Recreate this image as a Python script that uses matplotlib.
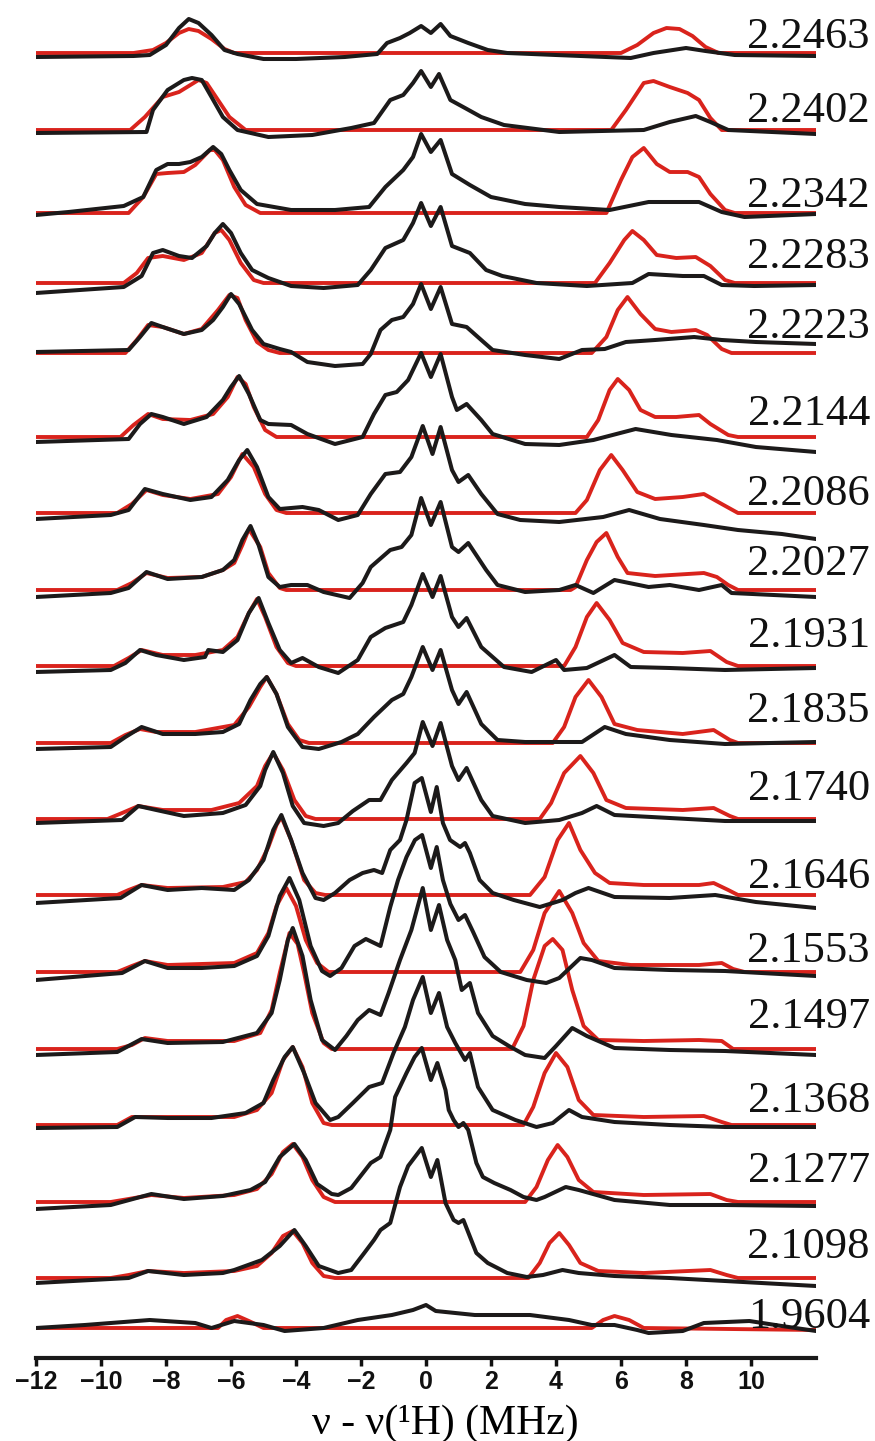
import matplotlib.pyplot as plt

# field labels, top to bottom
labels = ['2.2463', '2.2402', '2.2342', '2.2283', '2.2223', '2.2144', '2.2086',
          '2.2027', '2.1931', '2.1835', '2.1740', '2.1646', '2.1553', '2.1497',
          '2.1368', '2.1277', '2.1098', '1.9604']

# (frequency MHz, intensity) points
exp_22463 = [(-12, -4), (-9, -3), (-8.5, -2), (-8.0, 8), (-7.6, 25), (-7.3, 34), (-7.0, 30), (-6.6, 18), (-6.2, 3), (-5.8, -1), (-5.0, -6), (-4.0, -6), (-2.5, -4), (-1.5, -1), (-1.2, 10), (-0.8, 15), (-0.5, 20), (-0.15, 27), (0.15, 20), (0.45, 29), (0.75, 17), (1.3, 10), (1.9, 3), (2.5, 0), (4.0, -2), (6.3, -5), (7.0, 0), (8.0, 5), (8.6, 2), (9.5, -2), (12, -3)]
sim_22463 = [(-12, 0), (-9, 0), (-8.4, 3), (-8.0, 10), (-7.6, 20), (-7.3, 24), (-7.0, 22), (-6.6, 14), (-6.2, 4), (-5.9, 0), (6.0, 0), (6.5, 8), (7.0, 20), (7.4, 25), (7.8, 24), (8.2, 17), (8.6, 6), (9.0, 0), (12, 0)]

exp_22402 = [(-12, -3), (-8.6, -2), (-8.4, 20), (-7.95, 40), (-7.45, 50), (-7.2, 52), (-6.9, 50), (-6.6, 33), (-6.25, 13), (-5.8, 0), (-4.85, -7), (-3.5, -5), (-2.3, 2), (-1.6, 7), (-1.1, 30), (-0.7, 35), (-0.4, 47), (-0.15, 59), (0.15, 43), (0.4, 56), (0.75, 30), (1.2, 22), (1.7, 13), (2.4, 5), (4.1, -2), (6.7, 0), (7.5, 8), (8.3, 14), (8.75, 8), (9.3, 0), (12, -4)]
sim_22402 = [(-12, 0), (-9.1, 0), (-8.65, 13), (-8.1, 33), (-7.6, 38), (-7.0, 50), (-6.75, 47), (-6.4, 30), (-6.05, 13), (-5.55, 0), (5.7, 0), (6.15, 20), (6.7, 47), (7.0, 49), (7.5, 43), (8.05, 37), (8.4, 30), (8.75, 12), (9.1, 0), (12, 0)]

exp_22342 = [(-12, -2), (-11, 1), (-9.3, 7), (-8.7, 16), (-8.3, 43), (-7.95, 49), (-7.6, 49), (-7.25, 51), (-6.9, 56), (-6.55, 66), (-6.3, 59), (-6.05, 43), (-5.7, 23), (-5.2, 9), (-4.15, 3), (-2.8, 3), (-1.75, 6), (-1.25, 26), (-0.7, 43), (-0.4, 56), (-0.15, 79), (0.15, 61), (0.45, 73), (0.8, 39), (1.35, 28), (2.0, 16), (3.05, 9), (4.1, 6), (5.65, 3), (6.85, 11), (7.5, 11), (8.4, 11), (9.1, 1), (9.8, -4), (12, -1)]
sim_22342 = [(-12, 0), (-9.15, 0), (-8.7, 16), (-8.3, 39), (-7.95, 40), (-7.45, 41), (-7.1, 48), (-6.65, 63), (-6.5, 63), (-6.25, 53), (-5.9, 26), (-5.55, 8), (-5.1, 0), (5.55, 0), (6.0, 33), (6.35, 56), (6.7, 65), (7.1, 49), (7.5, 41), (8.05, 41), (8.4, 36), (8.75, 19), (9.2, 3), (9.5, 0), (12, 0)]

exp_22283 = [(-12, -10), (-9.3, -4), (-8.75, 7), (-8.4, 30), (-8.1, 33), (-7.6, 27), (-7.2, 25), (-6.75, 37), (-6.5, 50), (-6.25, 59), (-6.0, 50), (-5.7, 30), (-5.35, 13), (-4.85, 5), (-4.15, -3), (-3.15, -5), (-2.1, -2), (-1.7, 13), (-1.25, 35), (-0.7, 43), (-0.4, 60), (-0.15, 80), (0.15, 57), (0.45, 76), (0.8, 37), (1.35, 30), (1.85, 13), (2.35, 7), (3.4, 0), (4.95, -3), (6.35, 0), (6.85, 9), (7.9, 7), (8.55, 7), (9.1, -2), (10.1, -3), (12, -2)]
sim_22283 = [(-12, 0), (-9.3, 0), (-8.9, 10), (-8.55, 25), (-8.1, 27), (-7.45, 23), (-6.9, 30), (-6.5, 50), (-6.3, 53), (-6.05, 43), (-5.7, 20), (-5.3, 3), (-5.0, 0), (5.2, 0), (5.65, 20), (6.1, 43), (6.35, 52), (6.7, 43), (7.1, 28), (7.7, 25), (8.3, 26), (8.75, 17), (9.2, 3), (9.5, 0), (12, 0)]

exp_22223 = [(-12, 1), (-9.15, 3), (-8.8, 16), (-8.45, 30), (-8.1, 26), (-7.45, 19), (-6.9, 23), (-6.55, 33), (-6.25, 46), (-6.0, 59), (-5.75, 49), (-5.35, 23), (-5.0, 9), (-4.5, 4), (-4.15, 1), (-3.65, -9), (-2.8, -13), (-1.95, -11), (-1.7, -1), (-1.4, 23), (-1.05, 33), (-0.7, 36), (-0.4, 49), (-0.15, 69), (0.15, 44), (0.45, 66), (0.8, 29), (1.25, 26), (1.7, 13), (2.05, 3), (3.05, -2), (4.1, -6), (4.8, 3), (5.5, 4), (6.15, 11), (7.05, 13), (8.25, 16), (9.1, 13), (10.15, 11), (12, 9)]
sim_22223 = [(-12, 0), (-9.25, 0), (-8.9, 13), (-8.55, 28), (-8.1, 26), (-7.45, 19), (-6.9, 24), (-6.4, 43), (-6.05, 58), (-5.8, 55), (-5.55, 33), (-5.2, 11), (-4.85, 3), (-4.5, 0), (5.1, 0), (5.55, 16), (5.9, 43), (6.2, 56), (6.6, 39), (7.05, 24), (7.55, 21), (8.3, 23), (8.65, 18), (9.1, 4), (9.4, 0), (12, 0)]

exp_22144 = [(-12, -5), (-9.15, -2), (-8.8, 13), (-8.45, 23), (-8.1, 20), (-7.45, 13), (-6.75, 20), (-6.25, 37), (-6.0, 50), (-5.75, 61), (-5.45, 43), (-5.1, 17), (-4.85, 13), (-4.15, 12), (-3.65, 3), (-2.8, -7), (-1.95, 0), (-1.6, 23), (-1.25, 42), (-0.9, 45), (-0.55, 57), (-0.15, 84), (0.15, 60), (0.45, 83), (0.8, 40), (0.95, 27), (1.25, 33), (1.7, 17), (2.05, 3), (3.05, -7), (4.1, -8), (5.15, -3), (6.45, 8), (7.55, 2), (8.95, -3), (10.15, -10), (12, -15)]
sim_22144 = [(-12, 0), (-9.4, 0), (-9.0, 12), (-8.55, 23), (-8.1, 18), (-7.25, 17), (-6.55, 23), (-6.1, 40), (-5.8, 60), (-5.55, 53), (-5.3, 30), (-4.95, 7), (-4.6, 0), (4.95, 0), (5.3, 17), (5.65, 47), (5.9, 58), (6.25, 47), (6.6, 27), (7.05, 20), (7.7, 20), (8.4, 22), (8.75, 13), (9.3, 2), (9.6, 0), (12, 0)]

exp_22086 = [(-12, -6), (-9.7, -2), (-9.15, 3), (-8.65, 24), (-8.1, 19), (-7.25, 13), (-6.6, 16), (-6.1, 33), (-5.75, 53), (-5.5, 63), (-5.2, 46), (-4.85, 16), (-4.5, 4), (-3.8, 6), (-3.3, 3), (-2.7, -7), (-2.1, -2), (-1.7, 19), (-1.25, 39), (-0.8, 41), (-0.45, 56), (-0.1, 87), (0.2, 59), (0.45, 86), (0.8, 43), (1.0, 31), (1.3, 38), (1.7, 19), (2.2, -1), (2.9, -7), (4.1, -9), (5.45, -4), (6.25, 3), (7.2, -6), (8.55, -12), (9.6, -17), (10.95, -21), (12, -26)]
sim_22086 = [(-12, 0), (-9.5, 0), (-9.05, 9), (-8.6, 23), (-8.1, 18), (-7.25, 14), (-6.4, 19), (-6.0, 36), (-5.65, 59), (-5.3, 46), (-4.95, 19), (-4.6, 3), (-4.3, 0), (4.6, 0), (4.95, 13), (5.35, 43), (5.7, 58), (6.05, 43), (6.5, 21), (7.05, 14), (7.9, 16), (8.55, 19), (9.1, 9), (9.6, 0), (12, 0)]

exp_22027 = [(-12, -7), (-9.7, -3), (-9.15, 2), (-8.6, 18), (-7.95, 11), (-6.9, 13), (-6.25, 20), (-5.9, 30), (-5.65, 50), (-5.4, 64), (-5.15, 45), (-4.85, 13), (-4.5, 3), (-4.15, 5), (-3.65, 5), (-3.15, -2), (-2.35, -8), (-1.95, 7), (-1.7, 23), (-1.1, 40), (-0.75, 43), (-0.45, 55), (-0.15, 92), (0.15, 65), (0.45, 88), (0.8, 43), (1.0, 38), (1.3, 47), (1.85, 20), (2.2, 5), (3.05, -2), (4.1, 0), (4.6, 5), (5.15, -3), (5.8, 10), (6.85, 3), (7.5, 5), (8.4, 0), (9.1, 5), (9.4, -3), (12, -7)]
sim_22027 = [(-12, 0), (-9.5, 0), (-9.05, 7), (-8.6, 17), (-7.95, 12), (-6.9, 13), (-6.25, 20), (-5.9, 27), (-5.65, 45), (-5.45, 61), (-5.1, 43), (-4.85, 17), (-4.5, 2), (-4.3, 0), (4.45, 0), (4.6, 3), (4.95, 30), (5.25, 48), (5.55, 57), (5.9, 33), (6.2, 17), (7.05, 14), (8.55, 17), (8.95, 13), (9.3, 5), (9.6, 0), (12, 0)]

exp_21931 = [(-12, -6), (-9.7, -4), (-9.25, 3), (-8.8, 16), (-8.3, 11), (-7.45, 6), (-6.8, 9), (-6.7, 16), (-6.25, 14), (-5.8, 26), (-5.45, 53), (-5.15, 68), (-4.85, 43), (-4.5, 16), (-4.15, 3), (-3.8, 8), (-3.3, -1), (-2.7, -7), (-2.1, 6), (-1.7, 29), (-1.25, 38), (-0.7, 44), (-0.45, 61), (-0.1, 92), (0.2, 69), (0.45, 90), (0.8, 49), (1.0, 39), (1.25, 48), (1.7, 19), (2.4, -1), (3.25, -6), (4.0, 6), (4.25, -4), (4.95, -2), (5.8, 11), (6.3, -1), (7.5, -2), (9.2, -4), (12, -2)]
sim_21931 = [(-12, 0), (-9.6, 0), (-9.15, 8), (-8.75, 16), (-8.1, 11), (-7.1, 11), (-6.25, 16), (-5.8, 29), (-5.45, 53), (-5.2, 67), (-4.95, 49), (-4.6, 19), (-4.25, 3), (-4.0, 0), (4.25, 0), (4.6, 19), (4.95, 49), (5.25, 63), (5.65, 46), (6.05, 23), (6.7, 14), (7.9, 13), (8.75, 15), (9.25, 4), (9.6, 0), (12, 0)]

exp_21835 = [(-12, -6), (-9.7, -4), (-9.25, 6), (-8.75, 16), (-8.1, 9), (-7.1, 9), (-6.25, 11), (-5.75, 19), (-5.4, 43), (-5.1, 59), (-4.9, 66), (-4.6, 49), (-4.25, 16), (-3.8, -4), (-3.3, -6), (-2.6, 1), (-2.1, 9), (-1.6, 26), (-1.05, 43), (-0.7, 49), (-0.45, 66), (-0.1, 96), (0.2, 73), (0.45, 93), (0.8, 53), (1.0, 39), (1.25, 51), (1.7, 19), (2.2, 3), (3.05, 1), (4.8, 1), (5.5, 16), (6.15, 9), (7.5, 3), (9.2, -1), (12, 1)]
sim_21835 = [(-12, 0), (-9.7, 0), (-9.25, 8), (-8.8, 14), (-8.3, 11), (-7.1, 11), (-5.9, 18), (-5.45, 36), (-5.1, 56), (-4.9, 66), (-4.6, 49), (-4.25, 19), (-3.9, 3), (-3.6, 0), (3.9, 0), (4.25, 16), (4.6, 46), (5.0, 63), (5.4, 46), (5.8, 19), (6.5, 13), (7.9, 9), (8.85, 13), (9.35, 3), (9.6, 0), (12, 0)]

exp_21740 = [(-12, -4), (-9.35, -1), (-8.85, 13), (-8.3, 9), (-7.45, 3), (-6.25, 6), (-5.55, 14), (-5.1, 33), (-4.95, 49), (-4.7, 67), (-4.4, 46), (-4.1, 13), (-3.75, -4), (-3.15, -7), (-2.7, -4), (-2.25, 8), (-1.75, 19), (-1.4, 19), (-1.05, 39), (-0.6, 56), (-0.35, 66), (-0.1, 97), (0.2, 73), (0.45, 96), (0.8, 53), (1.0, 39), (1.25, 51), (1.7, 19), (2.05, 3), (3.05, -4), (4.1, -1), (4.8, 6), (5.25, 13), (5.8, 4), (7.5, 1), (9.2, -2), (12, -2)]
sim_21740 = [(-12, 0), (-9.8, 0), (-9.35, 6), (-8.85, 13), (-8.1, 9), (-6.6, 9), (-5.75, 16), (-5.2, 33), (-4.95, 53), (-4.7, 66), (-4.4, 49), (-4.05, 19), (-3.7, 3), (-3.4, 0), (3.5, 0), (3.85, 16), (4.25, 46), (4.75, 63), (5.15, 46), (5.55, 19), (6.15, 11), (7.9, 9), (8.85, 11), (9.35, 3), (9.6, 0), (12, 0)]

exp_21646 = [(-12, -8), (-9.4, -3), (-8.75, 10), (-7.95, 5), (-6.9, 7), (-5.9, 5), (-5.45, 15), (-5.0, 35), (-4.7, 65), (-4.45, 80), (-4.15, 55), (-3.8, 22), (-3.4, -3), (-3.15, -5), (-2.8, 2), (-2.35, 15), (-1.95, 22), (-1.6, 25), (-1.35, 22), (-1.1, 45), (-0.8, 55), (-0.6, 75), (-0.35, 112), (-0.13, 117), (0.15, 83), (0.33, 108), (0.52, 72), (0.74, 55), (1.05, 48), (1.2, 52), (1.35, 42), (1.65, 15), (2.05, 2), (2.7, -5), (3.5, -12), (4.2, -5), (4.6, 2), (5.0, 7), (5.8, -2), (7.5, -3), (8.9, 0), (10.15, -7), (12, -13)]
sim_21646 = [(-12, 0), (-9.5, 0), (-9.15, 5), (-8.75, 10), (-7.95, 7), (-6.25, 8), (-5.55, 13), (-5.2, 25), (-4.85, 48), (-4.6, 70), (-4.45, 78), (-4.15, 55), (-3.75, 15), (-3.4, 2), (-3.1, 0), (3.2, 0), (3.65, 18), (4.05, 55), (4.4, 72), (4.75, 45), (5.2, 22), (5.65, 12), (6.7, 10), (8.4, 10), (8.85, 12), (9.3, 5), (9.6, 0), (12, 0)]

exp_21553 = [(-12, -8), (-9.35, -1), (-8.65, 11), (-7.95, 4), (-6.9, 4), (-5.9, 6), (-5.2, 16), (-4.85, 36), (-4.5, 76), (-4.2, 94), (-3.9, 72), (-3.55, 26), (-3.2, 1), (-2.95, -4), (-2.6, 4), (-2.2, 26), (-1.85, 33), (-1.4, 26), (-1.1, 65), (-0.86, 92), (-0.6, 115), (-0.34, 132), (-0.12, 137), (0.15, 104), (0.33, 125), (0.52, 92), (0.75, 68), (1.0, 52), (1.2, 57), (1.45, 40), (1.8, 15), (2.3, 0), (3.1, -8), (3.7, -11), (4.1, -6), (4.75, 14), (5.1, 12), (5.8, 4), (7.5, 2), (9.2, 1), (12, -4)]
sim_21553 = [(-12, 0), (-9.5, 0), (-9.05, 6), (-8.65, 11), (-7.95, 7), (-5.9, 9), (-5.2, 19), (-4.85, 39), (-4.6, 66), (-4.3, 84), (-4.0, 66), (-3.7, 32), (-3.35, 9), (-3.0, 0), (2.9, 0), (3.3, 22), (3.65, 59), (4.1, 81), (4.5, 59), (4.85, 29), (5.3, 11), (6.3, 7), (8.4, 7), (9.1, 9), (9.45, 3), (9.8, 0), (12, 0)]

exp_21497 = [(-12, -6), (-9.5, -3), (-8.75, 10), (-7.95, 6), (-6.25, 7), (-5.2, 16), (-4.75, 36), (-4.5, 69), (-4.25, 109), (-4.1, 121), (-3.8, 93), (-3.55, 49), (-3.2, 9), (-2.8, -1), (-2.45, 13), (-2.1, 29), (-1.75, 39), (-1.4, 34), (-1.15, 56), (-0.8, 89), (-0.45, 119), (-0.1, 161), (0.15, 119), (0.4, 144), (0.65, 109), (0.9, 89), (1.1, 59), (1.35, 66), (1.6, 36), (2.05, 13), (2.55, 3), (3.05, -6), (3.65, -9), (4.0, 3), (4.5, 21), (4.95, 13), (5.8, 1), (7.5, -1), (9.2, -2), (12, -6)]
sim_21497 = [(-12, 0), (-9.5, 0), (-9.05, 4), (-8.65, 11), (-7.95, 8), (-5.9, 8), (-5.1, 16), (-4.75, 39), (-4.5, 76), (-4.2, 116), (-3.95, 105), (-3.75, 76), (-3.5, 36), (-3.15, 6), (-2.9, 0), (2.65, 0), (3.0, 23), (3.3, 69), (3.65, 103), (3.9, 110), (4.2, 99), (4.5, 59), (4.85, 23), (5.3, 9), (6.7, 8), (8.4, 9), (9.1, 8), (9.45, 0), (12, 0)]

exp_21368 = [(-12, -3), (-9.5, -2), (-8.95, 8), (-7.95, 7), (-6.6, 7), (-5.55, 12), (-5.0, 22), (-4.7, 45), (-4.35, 68), (-4.1, 78), (-3.75, 52), (-3.4, 22), (-2.95, 5), (-2.7, 8), (-2.25, 22), (-1.75, 38), (-1.35, 42), (-1.0, 72), (-0.65, 98), (-0.4, 125), (-0.1, 148), (0.15, 112), (0.4, 132), (0.65, 98), (0.9, 82), (1.2, 65), (1.35, 72), (1.6, 38), (2.05, 15), (2.75, 5), (3.4, -2), (3.9, 2), (4.4, 15), (4.8, 8), (5.8, 3), (7.5, 0), (9.2, -2), (12, -2)]
sim_21368 = [(-12, 0), (-9.5, 0), (-9.05, 8), (-7.95, 8), (-5.9, 8), (-5.2, 15), (-4.75, 32), (-4.4, 65), (-4.1, 78), (-3.8, 58), (-3.5, 22), (-3.15, 2), (-2.9, 0), (3.0, 0), (3.3, 18), (3.65, 52), (4.0, 72), (4.35, 58), (4.7, 25), (5.15, 10), (6.7, 8), (8.55, 9), (9.1, 3), (9.4, 0), (12, 0)]

exp_21277 = [(-12, -7), (-9.7, -3), (-8.45, 8), (-7.45, 3), (-6.25, 6), (-5.4, 12), (-4.95, 20), (-4.5, 45), (-4.05, 58), (-3.7, 42), (-3.35, 18), (-2.9, 8), (-2.7, 7), (-2.3, 14), (-1.7, 39), (-1.4, 45), (-1.1, 72), (-0.95, 105), (-0.6, 129), (-0.35, 145), (-0.13, 154), (0.15, 122), (0.35, 139), (0.6, 112), (0.7, 92), (0.85, 82), (1.0, 75), (1.15, 79), (1.3, 72), (1.55, 39), (1.75, 25), (2.1, 19), (2.6, 12), (3.0, 5), (3.4, 2), (3.65, 5), (4.3, 15), (4.7, 12), (5.8, 2), (7.5, -3), (9.2, -3), (12, -4)]
sim_21277 = [(-12, 0), (-9.7, 0), (-9.15, 3), (-8.45, 7), (-7.45, 4), (-5.9, 7), (-5.2, 13), (-4.75, 28), (-4.4, 50), (-4.1, 58), (-3.8, 45), (-3.5, 22), (-3.15, 5), (-2.8, 0), (3.05, 0), (3.4, 15), (3.75, 42), (4.05, 57), (4.35, 45), (4.7, 22), (5.15, 10), (6.7, 7), (8.75, 8), (9.25, 2), (9.6, 0), (12, 0)]

exp_21098 = [(-12, -5), (-9.15, 0), (-8.55, 7), (-7.45, 3), (-6.25, 5), (-5.9, 8), (-5.05, 18), (-4.5, 32), (-4.05, 48), (-3.7, 32), (-3.3, 12), (-2.7, 5), (-2.3, 8), (-1.9, 25), (-1.6, 38), (-1.4, 48), (-1.1, 55), (-0.8, 91), (-0.55, 112), (-0.13, 130), (0.15, 101), (0.35, 118), (0.6, 75), (0.85, 58), (1.0, 55), (1.15, 58), (1.55, 25), (1.9, 15), (2.5, 5), (3.1, 1), (3.6, 3), (4.2, 8), (4.7, 5), (5.8, 2), (7.5, 0), (9.2, -3), (12, -8)]
sim_21098 = [(-12, 0), (-9.7, 0), (-9.15, 3), (-8.55, 7), (-7.45, 5), (-5.9, 7), (-5.2, 12), (-4.75, 25), (-4.4, 42), (-4.1, 47), (-3.8, 35), (-3.5, 15), (-3.15, 2), (-2.8, 0), (3.15, 0), (3.5, 15), (3.8, 35), (4.1, 45), (4.4, 33), (4.75, 15), (5.3, 7), (6.7, 5), (8.75, 8), (9.25, 3), (9.6, 0), (12, 0)]

exp_19604 = [(-12, 0), (-10.5, 3), (-8.5, 8), (-7.1, 5), (-6.6, 0), (-5.9, 7), (-5.0, 3), (-4.35, -3), (-3.15, 0), (-2.1, 8), (-1.05, 13), (-0.4, 18), (0, 23), (0.3, 17), (1.5, 13), (3.2, 13), (4.4, 8), (5.1, 3), (5.8, 3), (6.5, -2), (6.85, -5), (7.9, -3), (8.55, 5), (9.95, 7), (10.95, 2), (12, -3)]
sim_19604 = [(-12, 0), (-6.4, 0), (-6.15, 8), (-5.8, 12), (-5.45, 7), (-5.0, 0), (5.1, 0), (5.45, 8), (5.8, 12), (6.25, 8), (6.7, 0), (12, -2)]

exp_traces = [exp_22463, exp_22402, exp_22342, exp_22283, exp_22223, exp_22144,
              exp_22086, exp_22027, exp_21931, exp_21835, exp_21740, exp_21646,
              exp_21553, exp_21497, exp_21368, exp_21277, exp_21098, exp_19604]
sim_traces = [sim_22463, sim_22402, sim_22342, sim_22283, sim_22223, sim_22144,
              sim_22086, sim_22027, sim_21931, sim_21835, sim_21740, sim_21646,
              sim_21553, sim_21497, sim_21368, sim_21277, sim_21098, sim_19604]

# layout: pixel row of each trace's baseline and of its label centre
baseline_px = [53, 130, 213, 283, 353, 437, 513, 590, 666, 743, 819, 895,
               972, 1049, 1125, 1202, 1278, 1328]
label_px = [33, 107, 192, 253, 323, 410, 490, 560, 632, 707, 785, 873,
            947, 1013, 1097, 1167, 1243, 1313]

W, H = 875, 1441
AXIS_PX = 1358
RED = '#d9231c'
BLACK = '#1c1a1a'

fig = plt.figure(figsize=(W / 100, H / 100), dpi=100)
ax = fig.add_axes([36 / W, (H - AXIS_PX) / H, 780 / W, AXIS_PX / H])
ax.set_xlim(-12, 12)
ax.set_ylim(0, AXIS_PX)

for i in range(len(labels)):
    base = AXIS_PX - baseline_px[i]
    sx = [p[0] for p in sim_traces[i]]
    sy = [base + p[1] for p in sim_traces[i]]
    ex = [p[0] for p in exp_traces[i]]
    ey = [base + p[1] for p in exp_traces[i]]
    ax.plot(sx, sy, color=RED, lw=2.8, solid_joinstyle='round', zorder=2)
    ax.plot(ex, ey, color=BLACK, lw=2.9, solid_joinstyle='round', zorder=3)
    ax.text(13.66, AXIS_PX - label_px[i] - 15, labels[i], ha='right',
            va='baseline', fontsize=32, family='Liberation Serif',
            color='#111111', clip_on=False, zorder=4)

for side in ['left', 'right', 'top']:
    ax.spines[side].set_visible(False)
ax.spines['bottom'].set_linewidth(3)
ax.spines['bottom'].set_color('#1a1a1a')
ax.set_yticks([])
ax.set_xticks(range(-12, 11, 2))
ax.tick_params(axis='x', direction='out', length=6, width=2.5, pad=2.5,
               labelsize=18, colors='#111111')
for t in ax.get_xticklabels():
    t.set_fontfamily('Liberation Sans')
    t.set_fontweight('bold')

fig.text(445 / W, (H - 1434) / H, 'ν - ν(¹H) (MHz)', ha='center',
         va='baseline', fontsize=30, family='Liberation Serif')

fig.savefig('out.png', dpi=100)
